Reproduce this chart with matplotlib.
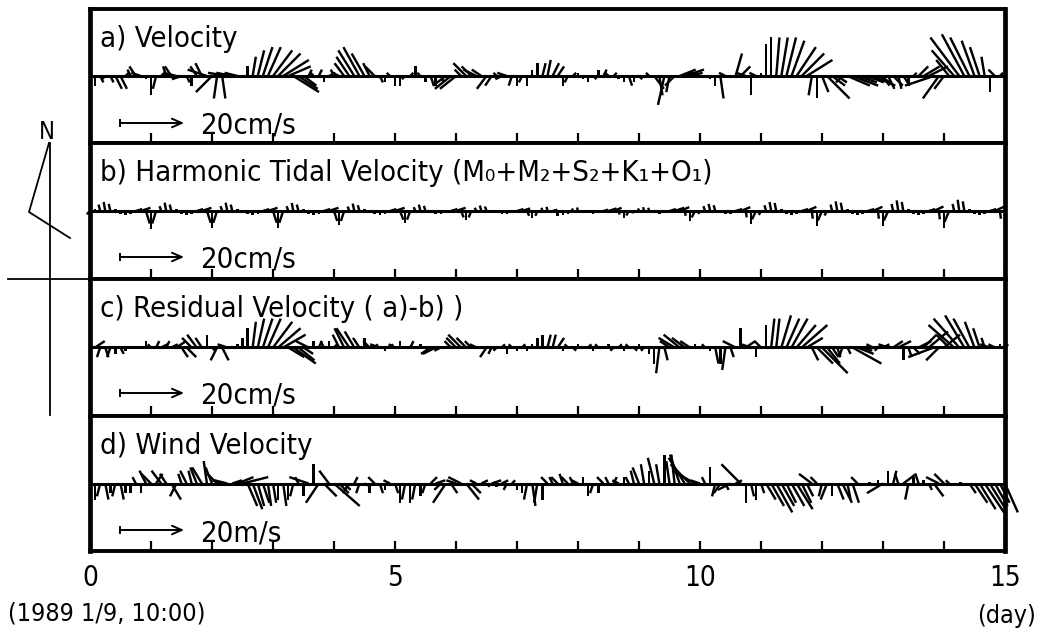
import numpy as np
import matplotlib
matplotlib.use('Agg')
import matplotlib.pyplot as plt
from matplotlib.lines import Line2D

W, H = 1045, 632
FONT = ['Liberation Sans Narrow', 'DejaVu Sans']
plt.rcParams['font.family'] = FONT
plt.rcParams['font.stretch'] = 'condensed'

# time axis: 2-hourly samples over 15 days
days = np.arange(181) / 12.0

# ---- a) observed current velocity (cm/s): east (u) and north (v) components
a_u = [0,0,1,-1,1,2,2,1,-1,-2,-3,0,
       0,-1,1,-1,-2,-4,-3,1,0,-2,-2,-6,
       -5,-1,1,-6,-5,-4,-3,0,1,2,3,4,
       6,7,8,7,8,6,4,1,-1,1,0,2,
       -1,-2,-3,-4,-5,-5,-4,-2,-3,1,0,-1,
       0,0,-1,1,0,-1,0,1,0,1,-4,-5,
       -5,-2,-4,-3,-4,-3,-3,-2,-1,-2,-3,-1,
       0,-1,0,0,0,1,1,2,2,0,-1,1,
       0,0,0,1,0,1,-1,1,0,0,1,0,
       1,1,-1,3,1,-2,-1,-3,5,6,4,-2,
       -3,-1,0,0,1,-2,1,2,3,-3,0,-2,
       0,0,0,1,2,3,4,6,7,8,-1,0,
       2,7,4,3,-2,7,8,6,4,5,7,4,
       2,2,3,1,2,0,1,3,5,6,-9,-5,
       -3,-4,-7,-9,-7,-6,-4,-3,-1,0,-2,1,
       0]
a_v = [-1,-3,-2,-1,-2,-4,-4,1,2,3,1,-1,
       -6,-4,1,3,3,1,-1,-2,-3,3,4,2,
       -5,-7,-7,1,1,1,0,3,6,8,9,9,
       8,7,5,3,-5,-4,-3,2,1,2,-2,1,
       2,1,4,6,8,9,7,4,3,-2,-2,1,
       -3,-3,-1,1,3,1,-2,-3,-3,-2,-3,-4,
       -4,2,4,3,2,2,-4,-3,1,-1,1,-3,
       -3,-2,-3,2,4,4,5,4,3,-3,-2,1,
       1,-1,-2,-1,2,2,1,1,-1,-2,-3,-2,
       -1,0,1,-4,-6,-9,-5,-3,2,2,1,1,
       1,0,-1,-3,-7,1,0,7,3,1,-6,1,
       1,10,12,12,12,12,11,9,7,5,-6,-7,
       -5,-7,-3,-2,-2,-3,-3,-2,-1,-2,-3,-2,
       -3,-4,-3,-4,-3,-3,1,3,3,3,-3,-7,
       -4,5,8,12,13,12,11,9,6,-5,2,1,
       -3]

# ---- b) harmonic tidal velocity (cm/s)
b_u = [-1,0,-0.5,-0.5,-0.5,0,0,0,0,2,3,1.2,
       0,-1.2,-0.5,-0.5,-0.5,0,0,0,0,2,3,1.2,
       0,-1.2,-0.5,-0.5,-0.5,0,0,0,0,0,2,3,
       1.2,0,-1.2,-0.5,-0.5,-0.5,0,0,0,0,2,3,
       1,0,-1,-0.5,-0.5,-0.5,0,0,0,0,0,2,
       3,1,0,-1,-0.5,-0.5,-0.5,0,0,0,0,2,
       3,0.8,0,-0.8,-0.5,-0.5,-0.5,0,0,0,0,0,
       2,2.5,0.6,0,-0.6,-0.3,-0.3,1.5,0,0,0,-0.3,
       -0.3,0,0,0,0,1.5,2.5,2.5,0.3,0,-0.8,-0.5,
       -0.3,-0.3,-0.3,0,0,0,2,3,3,0.3,0,-1,
       -0.6,-0.5,-0.5,-0.5,0,0,0,2,3,0.3,0,-1.2,
       -0.7,-0.5,-0.5,-0.5,0,0,0,0,2,3,0.3,0,
       -1.3,-0.8,-0.5,-0.5,-0.5,0,0,0,0,2,3,0.3,
       0,-1.3,-0.5,-0.5,-0.5,0,0,0,0,2,3,0.3,
       0,-1.4,-0.5,-0.5,-0.5,0,0,0,0,2,3,0.3,
       0]
b_v = [-1,0.5,2,2.8,2.2,0.5,-1,-1.3,-0.8,0.6,1,-3.9,
       -5.6,-3.9,1.5,2.6,2,0.5,-1,-1.3,-0.8,0.6,1,-3.7,
       -5.3,-3.7,1.5,2.6,2,0.5,0.3,-1,-1.2,-0.8,0.6,1,
       -3.7,-5.3,-3.7,1.5,2.5,2,0.5,-1,-1.2,-0.8,0.6,1,
       -3.1,-4.4,-3.1,1.4,2.3,1.8,0.5,0.3,-1,-1.1,-0.8,0.6,
       1,-2.7,-3.8,-2.7,1.2,2,1.6,0.4,-0.9,-1,-0.7,0.6,
       1,-2,-2.8,-2,1,1.7,1.4,0.4,0.3,-0.9,-1,-0.7,
       0.6,0.8,-1.5,-2.2,-1.5,1,1.3,0.4,-1.6,-1.2,-0.8,0.8,
       1.1,0.4,-0.6,-0.8,0.3,0.4,0.8,1,-1.1,-2.2,-1.4,-0.7,
       0.8,1.2,1,-0.6,-0.8,0.3,0.6,1,1.2,-1.5,-3.1,-2,
       -0.9,1.5,2.2,1.8,0.4,-0.8,-1,0.6,1.2,-2,-4,-2.6,
       -1.2,1.8,2.8,2.5,0.5,-0.8,-1.1,-0.8,0.6,1.3,-2.4,-4.7,
       -3,-1.4,2,3,2.6,0.5,-0.9,-1.2,-0.8,0.6,1.3,-2.4,
       -4.7,-3,2.2,3.3,2.8,0.5,-1,-1.3,-0.9,0.6,1.4,-2.6,
       -5.3,-3.4,2.2,3.5,3,0.5,-1,-1.3,-0.9,0.6,1.4,-2.4,
       -4.7]

# ---- c) residual velocity (cm/s)
c_u = [0,3,-1,1,-1,0,1,0,0,1,0,0,
       -1,1,2,1,2,3,2,3,-3,-3,-2,0,
       1,-2,2,-3,0,0,0,0,1,2,3,4,
       6,7,7,5,7,5,3,-4,0,1,-1,0,
       1,-2,-3,-4,-3,-2,0,-2,1,-3,0,1,
       -2,0,0,1,0,0,1,-3,-4,-2,0,-2,
       -3,-4,-3,-2,-2,0,-2,-1,-1,1,0,-1,
       0,1,0,0,0,0,1,1,2,0,-1,1,
       0,-1,1,0,-1,1,0,-1,1,0,-1,1,
       0,-1,0,0,-1,1,-3,-5,-5,-4,-3,0,
       1,-1,0,1,0,-1,1,-4,0,3,-3,0,
       -2,0,1,1,3,4,5,6,8,5,2,5,
       8,4,2,1,-1,1,9,5,3,-3,-2,-1,
       2,-3,3,4,0,1,2,4,4,6,-8,-4,
       5,-4,-8,-8,-6,-5,-3,-2,-1,-3,-2,0,
       1]
c_v = [-1,2,-3,-3,-3,-2,-2,-1,0,0,0,2,
       1,2,1,2,1,2,-3,-3,3,4,3,4,
       -1,-4,-4,1,0,1,3,6,8,9,9,9,
       8,6,4,-3,-5,-4,-2,2,2,2,2,2,
       1,4,6,6,5,3,3,2,1,1,-1,1,
       1,2,0,2,0,1,0,-2,-2,-1,0,2,
       3,4,3,2,1,0,-3,-2,-1,1,-2,1,
       -1,1,-1,1,3,4,4,4,3,-1,1,-1,
       1,0,1,-1,1,0,1,-1,1,-1,1,-1,
       1,-1,-2,-5,-8,-4,2,3,4,3,2,1,
       0,1,-1,-5,-5,-7,-3,2,6,2,1,-3,
       2,7,9,9,10,9,9,7,7,3,-4,-5,
       -8,-5,-3,-3,-3,-2,-5,-2,-1,0,1,-1,
       1,1,2,2,-4,-3,-2,2,4,5,-3,-4,
       4,4,7,9,10,9,8,6,3,1,1,1,
       1]

# ---- d) wind velocity (m/s)
d_u = [0,0,-1,1,0,-1,1,0,0,-1,0,-2,
       -3,2,-3,-2,3,-2,-1,-2,-1,-2,-3,-1,
       -2,-3,-3,-4,3,5,8,3,3,2,2,1,
       1,0,1,0,-1,-1,0,-6,0,-4,4,-3,
       8,3,2,-2,1,-1,2,0,-2,1,0,-2,
       1,0,-1,0,-1,0,-1,2,3,-2,-4,2,
       -3,-4,4,3,-2,2,1,3,0,2,-1,1,
       0,0,-1,1,-1,0,-2,-1,-2,-1,-2,-1,
       -2,0,0,-1,0,-2,-1,1,-2,0,-1,-1,
       -2,-1,0,-2,-1,0,-1,-1,-3,-5,-6,-7,
       -3,-1,0,-1,-2,1,-4,2,-6,0,1,0,
       1,3,4,5,4,3,4,5,3,2,-4,-2,
       -1,-2,0,2,3,1,2,-2,0,1,0,0,
       -5,0,1,-1,4,-1,0,-1,0,1,3,-4,
       -3,-1,0,1,0,2,4,5,6,5,4,3,
       4]
d_v = [-3,-5,-4,-5,-3,-4,-5,-3,-3,2,-3,4,
       3,3,4,3,-5,-4,3,4,4,5,5,7,
       5,3,1,1,1,2,2,-7,-8,-7,-6,-7,
       -6,-5,-7,-5,-4,2,-4,2,6,-6,-4,4,
       -7,-3,-2,-3,2,-3,-1,-3,2,-3,-2,1,
       -3,-6,-5,-6,-5,-4,-3,2,1,-2,-6,-3,
       1,2,-5,-3,1,1,-1,1,-1,1,-2,1,
       -2,-3,-5,-7,-6,-5,2,2,2,3,2,2,
       1,2,-4,-3,-3,2,2,2,1,2,2,4,
       5,6,4,8,6,9,7,9,9,8,6,4,
       1,2,5,-4,-3,-2,-2,1,6,-6,-4,-5,
       -3,-5,-7,-9,-7,-6,-7,-8,-6,-4,3,2,
       -4,-5,-4,-5,-6,-5,-6,2,0,0,0,1,
       -3,4,4,3,3,-5,2,3,1,-2,-4,2,
       3,1,0,0,0,-3,-6,-8,-9,-8,-7,-6,
       -9]

titles = ['a) Velocity',
          'b) Harmonic Tidal Velocity (M\u2080+M\u2082+S\u2082+K\u2081+O\u2081)',
          'c) Residual Velocity ( a)-b) )',
          'd) Wind Velocity']
scale_labels = ['20cm/s', '20cm/s', '20cm/s', '20m/s']
scale_value = 20
day_ticks = list(range(16))
day_labels = {0: '0', 5: '5', 10: '10', 15: '15'}

series = [(a_u, a_v), (b_u, b_v), (c_u, c_v), (d_u, d_v)]

# ---- layout (pixel geometry of the reference)
panel_px = [(9, 143), (143, 279), (279, 416), (416, 551)]
X0, X1 = 90, 1005
UNITS_PER_DAY = 19.0   # velocity units per day of x-axis length

fig = plt.figure(figsize=(W / 100, H / 100), dpi=100)
fig.patch.set_facecolor('white')

for k, ((top, bot), (u, v)) in enumerate(zip(panel_px, series)):
    h = bot - top
    ax = fig.add_axes([X0 / W, 1 - bot / H, (X1 - X0) / W, h / H])
    ax.set_xlim(0, 15)
    ax.set_ylim(-1, 1)
    ax.set_yticks([])
    ax.set_xticks(day_ticks)
    ax.tick_params(axis='x', direction='in', length=7, width=1.6,
                   bottom=True, top=False, labelsize=20, pad=9)
    if k == 3:
        ax.set_xticklabels([day_labels.get(t, '') for t in day_ticks])
    else:
        ax.set_xticklabels([])
    for s in ax.spines.values():
        s.set_linewidth(2.8)
    ax.spines['left'].set_linewidth(3.4)
    ax.spines['right'].set_linewidth(3.4)

    ax.axhline(0, color='k', lw=2.2, zorder=2)
    q = ax.quiver(days, np.zeros_like(days), u, v, angles='uv',
                  scale_units='x', scale=UNITS_PER_DAY, units='dots',
                  width=2.4, headwidth=0, headlength=0, headaxislength=0,
                  minlength=0, pivot='tail', color='k', zorder=3)
    q.set_clip_on(False)

    # panel title
    ax.text((100 - X0) / (X1 - X0), 1 - 38 / h, titles[k], transform=ax.transAxes,
            ha='left', va='baseline', fontsize=21)

    # scale arrow
    ya = 1 - 2 * 114 / h
    xa = 0.49
    xb = xa + scale_value / UNITS_PER_DAY
    ax.annotate('', xy=(xb, ya), xytext=(xa, ya),
                arrowprops=dict(arrowstyle='->,head_length=0.5,head_width=0.22',
                                lw=1.4, color='k', shrinkA=0, shrinkB=0,
                                mutation_scale=14))
    ax.plot([xa, xa], [ya - 0.05, ya + 0.05], color='k', lw=1.4)
    ax.text((200 - X0) / (X1 - X0), 1 - 125 / h, scale_labels[k],
            transform=ax.transAxes, ha='left', va='baseline', fontsize=21)

# bottom annotations
fig.text(8 / W, 1 - 621 / H, '(1989 1/9, 10:00)', ha='left', va='baseline', fontsize=18)
fig.text(1036 / W, 1 - 623 / H, '(day)', ha='right', va='baseline', fontsize=18)

# north indicator on the left margin
def fig_line(xs, ys, lw=1.3):
    fig.add_artist(Line2D([x / W for x in xs], [1 - y / H for y in ys],
                          transform=fig.transFigure, color='k', lw=lw))

fig_line([50, 50], [143, 415])
fig_line([49, 29, 70], [143, 212, 238])
fig_line([8, 90], [279, 279])
fig.text(47 / W, 1 - 132 / H, 'N', ha='center', va='center', fontsize=17)

fig.savefig('out.png', dpi=100, facecolor='white')
